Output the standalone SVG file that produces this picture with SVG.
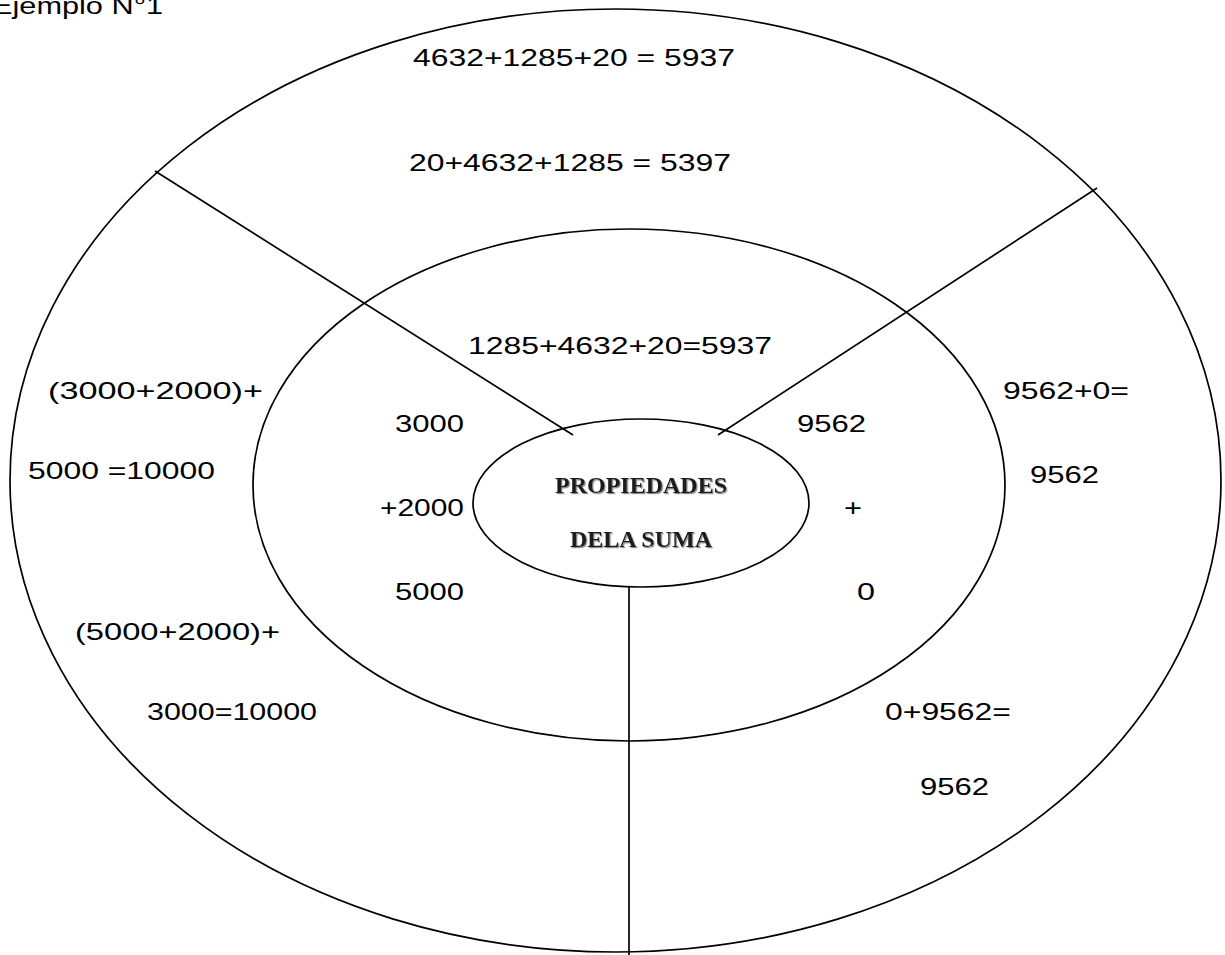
<svg xmlns="http://www.w3.org/2000/svg" width="1225" height="955" viewBox="0 0 1225 955">
<defs>
<filter id="sh" x="-10%" y="-30%" width="120%" height="160%">
<feDropShadow dx="1.2" dy="1.2" stdDeviation="0.4" flood-color="#888"/>
</filter>
</defs>
<style>
.shape{fill:none;stroke:#000;stroke-width:1.7}
.t{font-family:"Liberation Sans",Arial,sans-serif;font-size:24px;fill:#000}
.e{text-anchor:end}
.d{font-family:"Liberation Serif","Times New Roman",serif;font-size:24px;font-weight:bold;fill:#1a1a1a;filter:url(#sh)}
</style>
<rect width="1225" height="955" fill="#fff"/>
<text class="t" x="-8" y="14" textLength="171" lengthAdjust="spacingAndGlyphs">Ejemplo N°1</text>
<g id="outer">
<ellipse class="shape" cx="615.5" cy="480.5" rx="605.5" ry="471.5"/>
<text class="t" x="413" y="66" textLength="322" lengthAdjust="spacingAndGlyphs">4632+1285+20 = 5937</text>
<text class="t" x="409" y="171" textLength="322" lengthAdjust="spacingAndGlyphs">20+4632+1285 = 5397</text>
<text class="t" x="48" y="399" textLength="215" lengthAdjust="spacingAndGlyphs">(3000+2000)+</text>
<text class="t" x="28" y="479" textLength="187" lengthAdjust="spacingAndGlyphs">5000 =10000</text>
<text class="t" x="75" y="640" textLength="205" lengthAdjust="spacingAndGlyphs">(5000+2000)+</text>
<text class="t" x="147" y="720" textLength="170" lengthAdjust="spacingAndGlyphs">3000=10000</text>
<text class="t" x="1003" y="399" textLength="126" lengthAdjust="spacingAndGlyphs">9562+0=</text>
<text class="t" x="1030" y="483" textLength="69" lengthAdjust="spacingAndGlyphs">9562</text>
<text class="t" x="885" y="720" textLength="126" lengthAdjust="spacingAndGlyphs">0+9562=</text>
<text class="t" x="920" y="795" textLength="69" lengthAdjust="spacingAndGlyphs">9562</text>
</g>
<g id="inner">
<ellipse class="shape" cx="629" cy="485" rx="376" ry="256"/>
<text class="t" x="468" y="354" textLength="304" lengthAdjust="spacingAndGlyphs">1285+4632+20=5937</text>
<text class="t e" x="464" y="432" textLength="69" lengthAdjust="spacingAndGlyphs">3000</text>
<text class="t e" x="464" y="516" textLength="84" lengthAdjust="spacingAndGlyphs">+2000</text>
<text class="t e" x="464" y="600" textLength="69" lengthAdjust="spacingAndGlyphs">5000</text>
<text class="t" x="797" y="432" textLength="69" lengthAdjust="spacingAndGlyphs">9562</text>
<text class="t" x="844" y="516" textLength="18" lengthAdjust="spacingAndGlyphs">+</text>
<text class="t" x="857" y="600" textLength="18" lengthAdjust="spacingAndGlyphs">0</text>
</g>
<g id="center">
<ellipse class="shape" cx="641" cy="503" rx="168" ry="84"/>
<text class="d" x="555" y="493" textLength="172" lengthAdjust="spacingAndGlyphs">PROPIEDADES</text>
<text class="d" x="570" y="547" textLength="142" lengthAdjust="spacingAndGlyphs">DELA SUMA</text>
</g>
<g id="connectors">
<line class="shape" x1="155" y1="171" x2="573" y2="435"/>
<line class="shape" x1="1097" y1="188" x2="718" y2="435"/>
<line class="shape" x1="629" y1="587" x2="629" y2="955"/>
</g>
</svg>
